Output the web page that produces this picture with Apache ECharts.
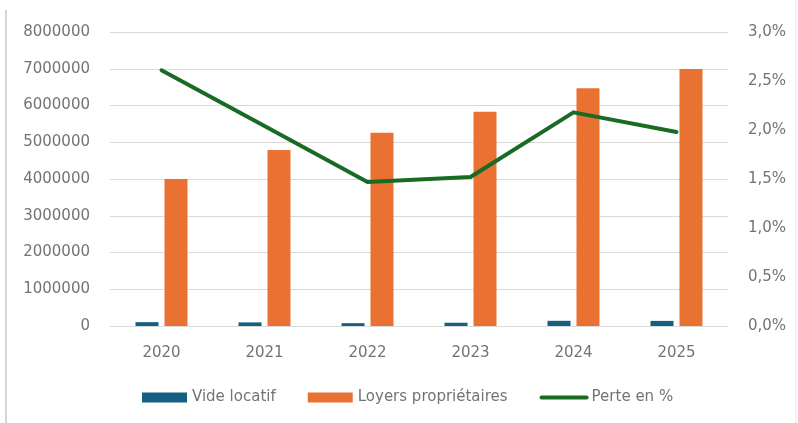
<!DOCTYPE html>
<html>
<head>
<meta charset="utf-8">
<script src="https://cdn.jsdelivr.net/npm/echarts@6/dist/echarts.min.js"></script>
<style>
  html, body { margin: 0; padding: 0; background: #ffffff; }
  #chart { width: 798px; height: 423px; }
</style>
</head>
<body>
<div id="chart"></div>
<script>
// Years on the category axis
var years = ['2020', '2021', '2022', '2023', '2024', '2025'];
// Rental vacancy loss (€)
var videLocatif = [105000, 98000, 77000, 89000, 141000, 139000];
// Owner rents (€)
var loyersProprietaires = [4000000, 4790000, 5260000, 5830000, 6470000, 6990000];
// Loss as a share of rents (%)
var perteEnPct = [2.61, 2.04, 1.47, 1.52, 2.18, 1.98];

var textColor = '#737373';
var gridColor = '#d9d9d9';
var fontFamily = 'DejaVu Sans, sans-serif';

var chart = echarts.init(document.getElementById('chart'), null, { renderer: 'canvas' });

chart.setOption({
  backgroundColor: '#ffffff',
  animation: false,
  textStyle: { fontFamily: fontFamily },
  graphic: [
    { type: 'line', shape: { x1: 6, y1: 10, x2: 6, y2: 423 }, style: { stroke: '#d4d4d4', lineWidth: 2 } },
    { type: 'line', shape: { x1: 796, y1: 0, x2: 796, y2: 423 }, style: { stroke: '#e4e4e4', lineWidth: 1 } }
  ],
  grid: { left: 110, right: 70, top: 32, bottom: 97 },
  legend: {
    bottom: 13,
    left: 137,
    itemWidth: 45,
    itemHeight: 10,
    itemGap: 32,
    textStyle: { color: textColor, fontSize: 15, fontFamily: fontFamily },
    data: [
      { name: 'Vide locatif', icon: 'rect' },
      { name: 'Loyers propriétaires', icon: 'rect' },
      {
        name: 'Perte en %',
        itemStyle: { color: 'transparent', borderColor: 'transparent', borderWidth: 0 },
        lineStyle: { width: 4, cap: 'round', color: '#196B24' }
      }
    ]
  },
  xAxis: {
    type: 'category',
    data: years,
    axisLine: { lineStyle: { color: gridColor, width: 1 } },
    axisTick: { show: false },
    axisLabel: { color: textColor, fontSize: 15, margin: 20 }
  },
  yAxis: [
    {
      type: 'value',
      min: 0,
      max: 8000000,
      interval: 1000000,
      axisLine: { show: false },
      axisTick: { show: false },
      splitLine: { lineStyle: { color: gridColor, width: 1 } },
      axisLabel: {
        color: textColor,
        fontSize: 15,
        margin: 20,
        formatter: function (v) { return String(v); }
      }
    },
    {
      type: 'value',
      min: 0,
      max: 3,
      interval: 0.5,
      axisLine: { show: false },
      axisTick: { show: false },
      splitLine: { show: false },
      axisLabel: {
        color: textColor,
        fontSize: 15,
        margin: 20,
        formatter: function (v) { return v.toFixed(1).replace('.', ',') + '%'; }
      }
    }
  ],
  series: [
    {
      name: 'Vide locatif',
      type: 'bar',
      data: videLocatif,
      barWidth: 23,
      barGap: '26%',
      itemStyle: { color: '#156082' }
    },
    {
      name: 'Loyers propriétaires',
      type: 'bar',
      data: loyersProprietaires,
      barWidth: 23,
      barGap: '26%',
      itemStyle: { color: '#E97132' }
    },
    {
      name: 'Perte en %',
      type: 'line',
      yAxisIndex: 1,
      data: perteEnPct,
      symbol: 'none',
      lineStyle: { color: '#196B24', width: 4, cap: 'round', join: 'round' },
      itemStyle: { color: '#196B24' },
      z: 5
    }
  ]
});
</script>
</body>
</html>
